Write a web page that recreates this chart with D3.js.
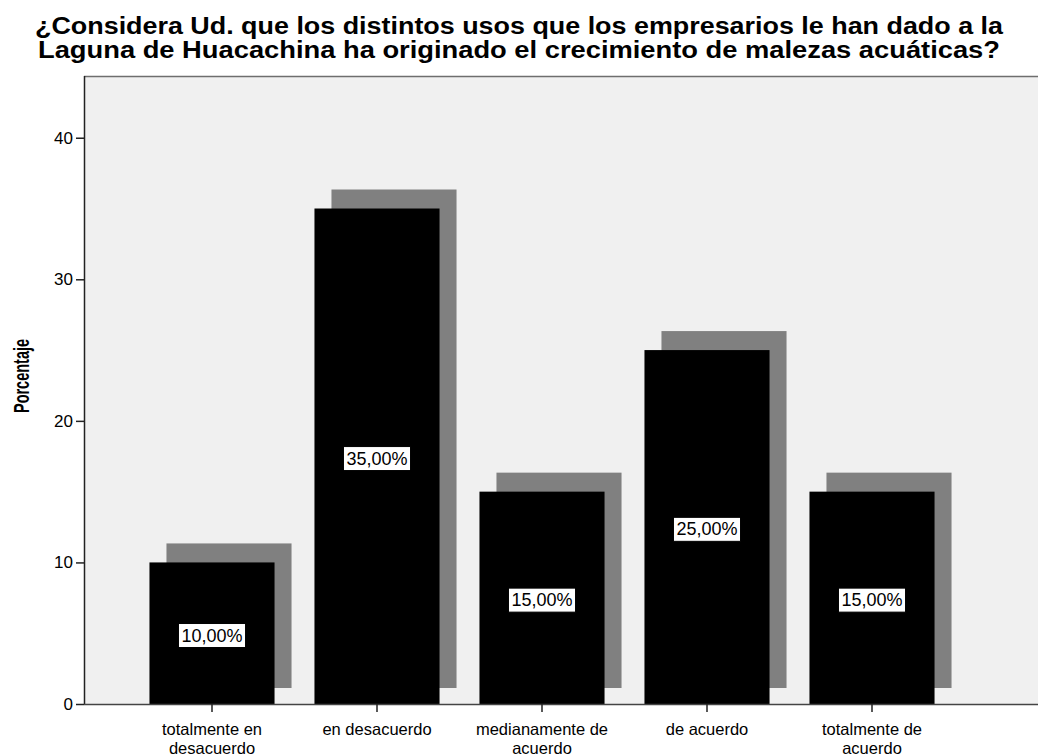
<!DOCTYPE html>
<html>
<head>
<meta charset="utf-8">
<script src="https://cdn.jsdelivr.net/npm/d3@7/dist/d3.min.js"></script>
<style>
  html, body { margin: 0; padding: 0; background: #ffffff; }
  svg { display: block; }
  text { font-family: Arial, "Liberation Sans", sans-serif; }
</style>
</head>
<body>
<svg id="chart" width="1038" height="756"></svg>
<script>
const titleLines = [
  "¿Considera Ud. que los distintos usos que los empresarios le han dado a la",
  "Laguna de Huacachina ha originado el crecimiento de malezas acuáticas?"
];
const categories = [
  ["totalmente en", "desacuerdo"],
  ["en desacuerdo"],
  ["medianamente de", "acuerdo"],
  ["de acuerdo"],
  ["totalmente de", "acuerdo"]
];
const values = [10, 35, 15, 25, 15];
const valueLabels = ["10,00%", "35,00%", "15,00%", "25,00%", "15,00%"];
const yTicks = [0, 10, 20, 30, 40];
const yTitle = "Porcentaje";

const svg = d3.select("#chart");
const W = 1038, H = 756;
const plot = { left: 84, top: 76, right: 1040, bottom: 704 };

const keys = categories.map((c, i) => c.join(" "));
const x = d3.scaleBand().domain(keys).range([129.5, 954.5]).paddingInner(0.242).paddingOuter(0.121);
const y = d3.scaleLinear().domain([0, 44.36]).range([plot.bottom, plot.top]);

// plot background
svg.append("rect")
  .attr("x", plot.left).attr("y", plot.top)
  .attr("width", plot.right - plot.left).attr("height", plot.bottom - plot.top)
  .attr("fill", "#f0f0f0");
svg.append("line")
  .attr("x1", plot.left).attr("x2", plot.right)
  .attr("y1", plot.top + 0.5).attr("y2", plot.top + 0.5)
  .attr("stroke", "#6e6e6e").attr("stroke-width", 1.5);

// shadows
const dx = 17, dyTop = 19, dyBottom = 16;
svg.append("g").selectAll("rect").data(values).join("rect")
  .attr("x", (d, i) => x(keys[i]) + dx)
  .attr("y", d => y(d) - dyTop)
  .attr("width", x.bandwidth())
  .attr("height", d => (y(0) - dyBottom) - (y(d) - dyTop))
  .attr("fill", "#808080");

// bars
svg.append("g").selectAll("rect").data(values).join("rect")
  .attr("x", (d, i) => x(keys[i]))
  .attr("y", d => y(d))
  .attr("width", x.bandwidth())
  .attr("height", d => y(0) - y(d))
  .attr("fill", "#000000");

// value labels
const lab = svg.append("g").selectAll("g").data(values).join("g")
  .attr("transform", (d, i) => `translate(${x(keys[i]) + x.bandwidth() / 2},${(y(d) + y(0)) / 2 + 2})`);
lab.append("text")
  .attr("text-anchor", "middle").attr("dy", "0.35em")
  .attr("font-size", 18).attr("fill", "#000")
  .text((d, i) => valueLabels[i]);
lab.each(function() {
  const g = d3.select(this);
  const bb = g.select("text").node().getBBox();
  g.insert("rect", "text")
    .attr("x", bb.x - 3).attr("y", bb.y - 2)
    .attr("width", bb.width + 6).attr("height", bb.height + 4)
    .attr("fill", "#fff").attr("stroke", "#000").attr("stroke-width", 1);
});

// y axis
const yAxis = svg.append("g")
  .attr("transform", `translate(${plot.left},0)`)
  .call(d3.axisLeft(y).tickValues(yTicks).tickSize(8).tickPadding(3).tickFormat(d3.format("d")));
yAxis.select(".domain").attr("stroke", "#222").attr("stroke-width", 1.5)
  .attr("d", `M0.5,${plot.top}V${plot.bottom}`);
yAxis.selectAll(".tick line").attr("stroke", "#222").attr("stroke-width", 1.5);
yAxis.selectAll(".tick text").attr("font-size", 17).attr("fill", "#000")
  .attr("font-family", "Arial, 'Liberation Sans', sans-serif");

// x axis
const xAxis = svg.append("g")
  .attr("transform", `translate(0,${plot.bottom})`)
  .call(d3.axisBottom(x).tickSize(8).tickFormat(""));
xAxis.select(".domain").attr("stroke", "#444").attr("stroke-width", 1.5)
  .attr("d", `M${plot.left},0.5H${plot.right}`);
xAxis.selectAll(".tick line").attr("stroke", "#222").attr("stroke-width", 1.5);
xAxis.selectAll(".tick").each(function(d, i) {
  const t = d3.select(this).append("text")
    .attr("text-anchor", "middle").attr("fill", "#000").attr("font-size", 16.5);
  categories[i].forEach((line, j) => {
    t.append("tspan").attr("x", 0).attr("y", 31 + j * 18.5).text(line);
  });
});

// y title
svg.append("text")
  .attr("transform", `translate(29,376) rotate(-90)`)
  .attr("text-anchor", "middle").attr("font-weight", "bold").attr("font-size", 22)
  .attr("textLength", 74).attr("lengthAdjust", "spacingAndGlyphs")
  .attr("fill", "#000").text(yTitle);

// title
const tLens = [968, 962];
titleLines.forEach((line, i) => {
  svg.append("text")
    .attr("x", W / 2).attr("y", 34 + i * 24)
    .attr("text-anchor", "middle").attr("font-weight", "bold").attr("font-size", 23)
    .attr("textLength", tLens[i]).attr("lengthAdjust", "spacingAndGlyphs")
    .attr("fill", "#000").text(line);
});
</script>
</body>
</html>
